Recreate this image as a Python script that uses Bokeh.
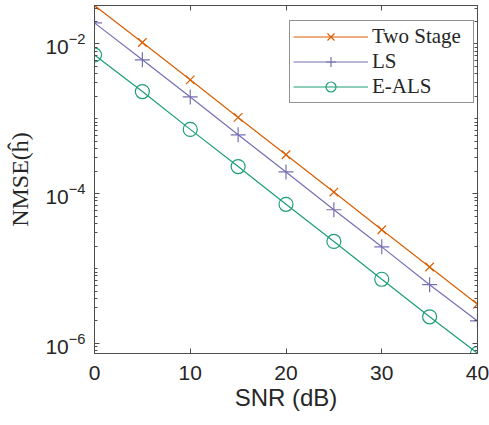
from bokeh.plotting import figure
from bokeh.models import (Range1d, FixedTicker, LinearAxis, LogAxis, Legend, LegendItem)
from bokeh.embed import file_html
from bokeh.resources import INLINE

# ---- data ----
snr = [0, 5, 10, 15, 20, 25, 30, 35, 40]
two_stage = [3.24e-2, 1.04e-2, 3.3e-3, 1.04e-3, 3.3e-4, 1.05e-4, 3.3e-5, 1.05e-5, 3.34e-6]
ls = [1.9e-2, 6.1e-3, 1.95e-3, 6.1e-4, 1.95e-4, 6.1e-5, 1.95e-5, 6.1e-6, 2.0e-6]
e_als = [7.1e-3, 2.3e-3, 7.2e-4, 2.3e-4, 7.2e-5, 2.3e-5, 7.2e-6, 2.27e-6, 7.4e-7]

x_ticks = [0, 10, 20, 30, 40]
y_ticks = [1e-6, 1e-4, 1e-2]
y_minor = [m * 10.0 ** e for e in range(-7, -1) for m in range(1, 10)]

C_TWO = "#d95f02"
C_LS = "#7570b3"
C_EALS = "#1b9e77"
AX = "#4d4d4d"
TXT = "#262626"

p = figure(width=489, height=425, y_axis_type="log",
           x_range=Range1d(0, 40), y_range=Range1d(7.36e-7, 3.24e-2),
           output_backend="svg", toolbar_location=None,
           min_border_left=94, min_border_right=12, min_border_top=5, min_border_bottom=72)

p.background_fill_color = "white"
p.border_fill_color = "white"
p.outline_line_color = AX
p.outline_line_width = 1
p.xgrid.visible = False
p.ygrid.visible = False

# bottom axis
xa = p.xaxis[0]
xa.ticker = FixedTicker(ticks=x_ticks, minor_ticks=[])
xa.axis_label = "SNR (dB)"
xa.axis_label_text_font = "Liberation Sans"
xa.axis_label_text_font_size = "24px"
xa.axis_label_text_font_style = "normal"
xa.axis_label_text_color = TXT
xa.axis_label_standoff = 1
xa.major_label_text_font = "Liberation Sans"
xa.major_label_text_font_size = "21px"
xa.major_label_text_color = TXT
xa.major_label_standoff = 12
xa.major_tick_in = 5
xa.major_tick_out = 0
xa.axis_line_color = AX
xa.major_tick_line_color = AX

# left axis
ya = p.yaxis[0]
ya.ticker = FixedTicker(ticks=y_ticks, minor_ticks=y_minor)
ya.axis_label = "NMSE(ĥ)"
ya.axis_label_text_font = "Liberation Serif"
ya.axis_label_text_font_size = "24px"
ya.axis_label_text_font_style = "normal"
ya.axis_label_text_color = TXT
ya.axis_label_standoff = 9
ya.major_label_text_font = "Liberation Sans"
ya.major_label_text_font_size = "21px"
ya.major_label_text_color = TXT
ya.major_label_standoff = 9
ya.major_tick_in = 5
ya.major_tick_out = 0
ya.minor_tick_in = 3
ya.minor_tick_out = 0
ya.axis_line_color = AX
ya.major_tick_line_color = AX
ya.minor_tick_line_color = AX

# top and right box axes (ticks only, labels not drawn)
top = LinearAxis(ticker=FixedTicker(ticks=x_ticks, minor_ticks=[]),
                 major_label_text_font_size="1px", major_label_text_color=None,
                 major_label_standoff=0,
                 major_tick_in=5, major_tick_out=0, minor_tick_in=0, minor_tick_out=0,
                 axis_line_color=AX, major_tick_line_color=AX)
p.add_layout(top, "above")
right = LogAxis(ticker=FixedTicker(ticks=y_ticks, minor_ticks=y_minor),
                major_label_text_font_size="1px", major_label_text_color=None,
                major_label_standoff=0,
                major_tick_in=5, major_tick_out=0, minor_tick_in=3, minor_tick_out=0,
                axis_line_color=AX, major_tick_line_color=AX, minor_tick_line_color=AX)
p.add_layout(right, "right")

# series
l1 = p.line(snr, two_stage, line_color=C_TWO, line_width=1.2)
m1 = p.scatter(snr, two_stage, marker="x", size=12, line_color=C_TWO, line_width=1.2)
l2 = p.line(snr, ls, line_color=C_LS, line_width=1.2)
m2 = p.scatter(snr, ls, marker="cross", size=15, line_color=C_LS, line_width=1.2)
l3 = p.line(snr, e_als, line_color=C_EALS, line_width=1.2)
m3 = p.scatter(snr, e_als, marker="circle", size=14, line_color=C_EALS,
               fill_color=None, line_width=1.2)

legend = Legend(items=[
    LegendItem(label="Two Stage", renderers=[l1, m1]),
    LegendItem(label="LS", renderers=[l2, m2]),
    LegendItem(label="E-ALS", renderers=[l3, m3]),
], location=(195, 250))
legend.label_text_font = "Liberation Serif"
legend.label_text_font_size = "21px"
legend.label_text_color = TXT
legend.glyph_width = 75
legend.glyph_height = 25
legend.label_height = 25
legend.label_width = 98
legend.spacing = 0
legend.padding = 3
legend.margin = 0
legend.label_standoff = 4
legend.border_line_color = TXT
legend.border_line_width = 1
legend.background_fill_color = "white"
legend.background_fill_alpha = 1
p.add_layout(legend, "center")

open("out.html", "w").write(file_html(p, INLINE))
